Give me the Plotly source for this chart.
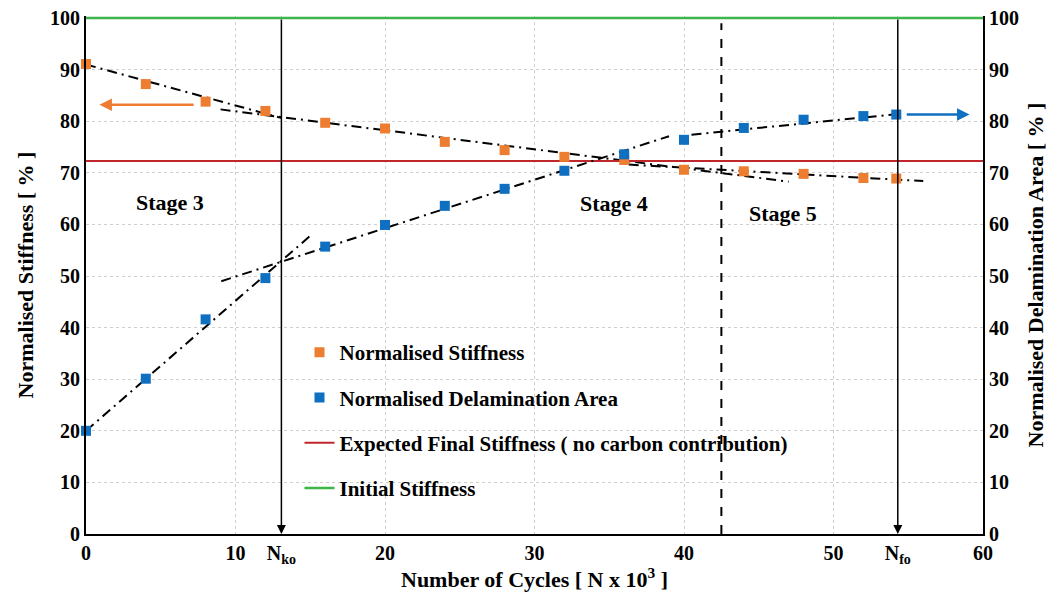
import plotly.graph_objects as go

# ---- data -------------------------------------------------------------------
cycles = [0, 4, 8, 12, 16, 20, 24, 28, 32, 36, 40, 44, 48, 52, 54.2]
stiffness = [91.1, 87.2, 83.8, 82.0, 79.7, 78.6, 76.0, 74.4, 73.1, 72.5,
             70.6, 70.3, 69.8, 69.0, 68.9]
delamination = [20.0, 30.1, 41.6, 49.6, 55.7, 59.9, 63.6, 66.9, 70.4, 73.6,
                76.4, 78.7, 80.3, 81.0, 81.3]

span = [0, 60]
expected_final = 72.3
initial = 100.0

# linear fits per stage (end points)
stiff_fit_x = [[0, 13.1], [9.0, 47.0], [36.3, 56.0]]
stiff_fit_y = [[91.0, 80.6], [82.3, 68.3], [71.6, 68.4]]
delam_fit_x = [[0, 15.0], [9.05, 39.0], [40.5, 54.3]]
delam_fit_y = [[20.0, 57.8], [49.0, 77.1], [77.4, 81.4]]

n_ko = 13.07
n_fo = 54.3
stage_5_start = 42.5

x_tickvals = [0, 10, n_ko, 20, 30, 40, 50, n_fo, 60]
x_ticktext = ["0", "10", "N<sub>ko</sub>", "20", "30", "40", "50", "N<sub>fo</sub>", "60"]

stages = ["Stage 3", "Stage 4", "Stage 5"]
stage_x = [5.6, 35.3, 46.6]
stage_y = [64.2, 64.1, 62.1]

# ---- style -------------------------------------------------------------------
ORANGE = "#ED7D31"
BLUE = "#0F6FC0"
RED = "#C0272D"
GREEN = "#3DB54A"
GRID = "#cfcfcf"
FONT = "Liberation Serif"

fig = go.Figure()

trend_line = dict(color="black", width=2, dash="10px,5px,2px,5px")
for xs, ys in zip(stiff_fit_x, stiff_fit_y):
    fig.add_trace(go.Scatter(x=xs, y=ys, mode="lines", line=trend_line,
                             showlegend=False, hoverinfo="skip"))
for xs, ys in zip(delam_fit_x, delam_fit_y):
    fig.add_trace(go.Scatter(x=xs, y=ys, mode="lines", line=trend_line,
                             showlegend=False, hoverinfo="skip", yaxis="y2"))

fig.add_trace(go.Scatter(x=span, y=[expected_final] * 2, mode="lines",
                         line=dict(color=RED, width=2),
                         name="Expected Final Stiffness ( no carbon contribution)",
                         legendgroup="c", legendrank=3))
fig.add_trace(go.Scatter(x=span, y=[initial] * 2, mode="lines",
                         line=dict(color=GREEN, width=2.5),
                         name="Initial Stiffness", legendgroup="d", legendrank=4))

fig.add_trace(go.Scatter(x=cycles, y=stiffness, mode="markers",
                         marker=dict(symbol="square", size=10, color=ORANGE),
                         name="Normalised Stiffness", cliponaxis=False,
                         legendgroup="a", legendrank=1))
fig.add_trace(go.Scatter(x=cycles, y=delamination, mode="markers",
                         marker=dict(symbol="square", size=10, color=BLUE),
                         name="Normalised Delamination Area", cliponaxis=False,
                         yaxis="y2", legendgroup="b", legendrank=2))

# N_ko / N_fo markers and stage boundary
for xv in (n_ko, n_fo):
    fig.add_annotation(x=xv, y=0, ax=xv, ay=100, xref="x", yref="y",
                       axref="x", ayref="y", text="", showarrow=True,
                       arrowhead=2, arrowsize=1.2, arrowwidth=1.5,
                       arrowcolor="black", standoff=0)
fig.add_shape(type="line", x0=stage_5_start, x1=stage_5_start, y0=0, y1=99,
              xref="x", yref="y", line=dict(color="black", width=2, dash="dash"))

# axis pointers
fig.add_annotation(x=0.9, y=83.2, ax=7.3, ay=83.2, xref="x", yref="y",
                   axref="x", ayref="y", text="", showarrow=True,
                   arrowhead=2, arrowsize=1, arrowwidth=2.5, arrowcolor=ORANGE)
fig.add_annotation(x=59.1, y=81.3, ax=54.8, ay=81.3, xref="x", yref="y",
                   axref="x", ayref="y", text="", showarrow=True,
                   arrowhead=2, arrowsize=1, arrowwidth=2.5, arrowcolor=BLUE)

for txt, sx, sy in zip(stages, stage_x, stage_y):
    fig.add_annotation(x=sx, y=sy, xref="x", yref="y", text=txt, showarrow=False,
                       font=dict(family=FONT, size=22, color="black", weight="bold"))

axis_font = dict(family=FONT, size=20, color="black", weight="bold")
title_font = dict(family=FONT, size=22, color="black", weight="bold")

# the page body adds an 8px offset, so the figure is sized to fit inside it
fig.update_layout(
    width=1049, height=588,
    paper_bgcolor="white", plot_bgcolor="white",
    margin=dict(l=78, r=74, t=8, b=62),
    font=dict(family=FONT, color="black"),
    showlegend=True,
    legend=dict(x=0.238, y=0.39, xanchor="left", yanchor="top",
                bgcolor="rgba(0,0,0,0)", traceorder="grouped", tracegroupgap=15,
                font=dict(family=FONT, size=21, color="black", weight="bold")),
    xaxis=dict(range=[0, 60], tickvals=x_tickvals, ticktext=x_ticktext,
               automargin=False,
               showline=True, linecolor="black", linewidth=2,
               showgrid=True, gridcolor=GRID, griddash="dot", zeroline=False,
               tickfont=axis_font,
               title=dict(text="Number of Cycles [ N x 10<sup>3</sup> ]",
                          font=title_font, standoff=4)),
    yaxis=dict(range=[0, 100.4], tickvals=list(range(0, 101, 10)),
               automargin=False, ticklabeloverflow="allow",
               showline=True, linecolor="black", linewidth=2,
               showgrid=True, gridcolor=GRID, griddash="dot", zeroline=False,
               tickfont=axis_font,
               title=dict(text="Normalised Stiffness [ % ]", font=title_font,
                          standoff=10)),
    yaxis2=dict(range=[0, 100.4], tickvals=list(range(0, 101, 10)),
                overlaying="y", side="right", anchor="x", automargin=False,
                ticklabeloverflow="allow",
                showline=True, linecolor="black", linewidth=2,
                showgrid=False, zeroline=False, tickfont=axis_font,
                title=dict(text="Normalised Delamination Area [ % ]",
                           font=title_font, standoff=10)),
)

fig.write_html("out.html")
